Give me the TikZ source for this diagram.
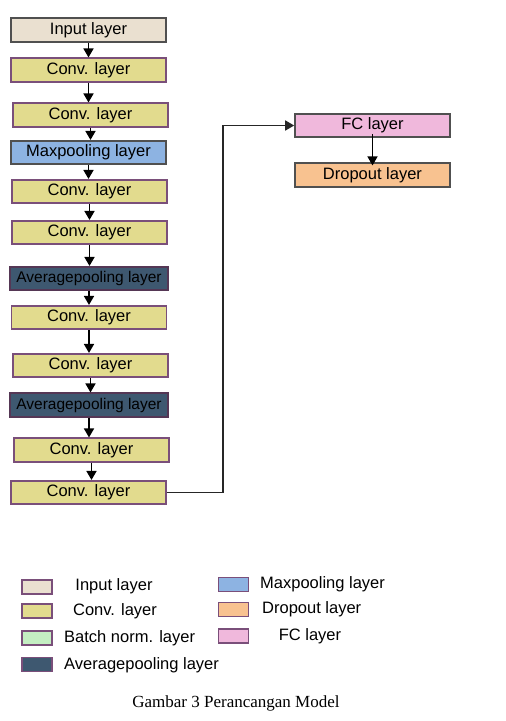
\documentclass[tikz,border=0pt]{standalone}
\usepackage{fontspec}
\setmainfont{Liberation Serif}
\newfontfamily\arialf{Liberation Sans}
\usetikzlibrary{arrows.meta}
\definecolor{inputc}{HTML}{EAE0D0}
\definecolor{convc}{HTML}{E2DB8E}
\definecolor{maxc}{HTML}{8DB3E2}
\definecolor{avgc}{HTML}{3E5870}
\definecolor{fcc}{HTML}{F0B8DC}
\definecolor{dropc}{HTML}{F8C290}
\definecolor{bnc}{HTML}{C4EEC2}
\definecolor{purpb}{HTML}{7A4F7A}
\definecolor{greyb}{HTML}{505050}
\begin{document}
\begin{tikzpicture}[x=1pt,y=-1pt,
  layer/.style={draw, line width=1.6pt, rectangle, minimum width=155pt, minimum height=23.5pt, inner sep=0pt, font=\arialf\fontsize{16.5}{17}\selectfont},
  inputbox/.style={layer, fill=inputc, draw=greyb},
  convbox/.style={layer, fill=convc, draw=purpb},
  maxbox/.style={layer, fill=maxc, draw=greyb},
  avgbox/.style={layer, fill=avgc, draw=purpb!70!black, minimum width=158pt, font=\arialf\fontsize{15.5}{16}\selectfont},
  fcbox/.style={layer, fill=fcc, draw=greyb},
  dropbox/.style={layer, fill=dropc, draw=greyb},
  swatch/.style={draw=purpb, line width=1.6pt, rectangle, minimum width=30pt, minimum height=14pt, inner sep=0pt},
  legtext/.style={font=\arialf\fontsize{16.5}{17}\selectfont, inner sep=0pt},
  flow/.style={line width=1.7pt, -{Triangle[width=10pt,length=9pt]}},
]
\useasboundingbox (0,0) rectangle (506,721);
\node[inputbox] (in) at (88.5,30) {Input layer};
\node[convbox] (c1) at (88.5,70) {Conv. layer};
\node[convbox] (c2) at (90.5,115) {Conv. layer};
\node[maxbox] (mp) at (88.5,152.5) {Maxpooling layer};
\node[convbox] (c3) at (89.5,191.5) {Conv. layer};
\node[convbox] (c4) at (89.5,232.5) {Conv. layer};
\node[avgbox] (a1) at (89,278.5) {Averagepooling layer};
\node[convbox] (c5) at (89,317.5) {Conv. layer};
\node[convbox] (c6) at (90.5,365.5) {Conv. layer};
\node[avgbox] (a2) at (89,405) {Averagepooling layer};
\node[convbox] (c7) at (91.5,450) {Conv. layer};
\node[convbox] (c8) at (88.5,492.5) {Conv. layer};
\node[fcbox] (fc) at (372.5,125.5) {FC layer};
\node[dropbox] (dr) at (372.5,175) {Dropout layer};

\foreach \a/\b in {in/c1,c1/c2,c2/mp,mp/c3,c3/c4,c4/a1,a1/c5,c5/c6,c6/a2,a2/c7,c7/c8}
  \draw[flow] (\a.south) -- (\a.south |- \b.north);
\draw[flow, line width=1.3pt] ([yshift=4pt]fc.south) -- ([yshift=-3pt]dr.north);
\coordinate (turn) at (223,125.5);
\draw[flow, draw=black!85, line width=1.6pt] (c8.east) -| (turn) -- (fc.west);

% legend
\node[swatch, fill=inputc] (s1) at (37,587) {};
\node[swatch, fill=convc] (s2) at (37,611) {};
\node[swatch, fill=bnc] (s3) at (37,638) {};
\node[swatch, fill=avgc] (s4) at (37,664.5) {};
\node[swatch, fill=maxc] (s5) at (233.5,584.5) {};
\node[swatch, fill=dropc] (s6) at (233.5,609.5) {};
\node[swatch, fill=fcc] (s7) at (233.5,636) {};
\node[legtext] (l1) at (114,586) {Input layer};
\node[legtext] (l2) at (115,611) {Conv. layer};
\node[legtext, anchor=west] (l3) at (64,638) {Batch norm. layer};
\node[legtext, anchor=west] (l4) at (64,665) {Averagepooling layer};
\node[legtext, anchor=west] (l5) at (260,584) {Maxpooling layer};
\node[legtext, anchor=west] (l6) at (262,609) {Dropout layer};
\node[legtext] (l7) at (310,636) {FC layer};
\node[font=\fontsize{17}{18}\selectfont, inner sep=0pt] (cap) at (236,703) {Gambar 3 Perancangan Model};
\end{tikzpicture}
\end{document}
